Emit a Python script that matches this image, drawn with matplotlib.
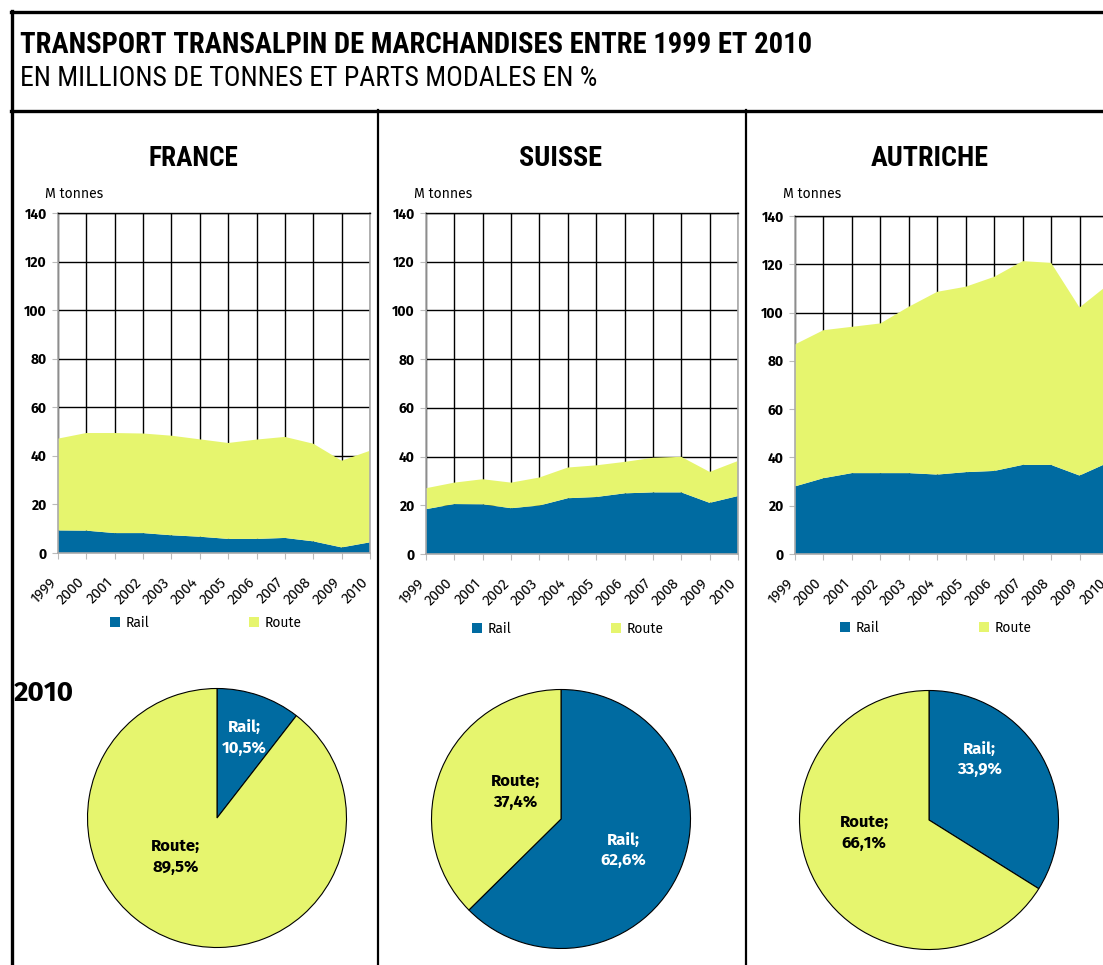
import matplotlib
matplotlib.use('Agg')
import matplotlib.pyplot as plt
from matplotlib.lines import Line2D
from matplotlib.transforms import ScaledTranslation
from matplotlib import font_manager

# ---------------- data ----------------
years = ['1999', '2000', '2001', '2002', '2003', '2004', '2005', '2006', '2007', '2008', '2009', '2010']

france_rail = [9.3, 9.2, 8.2, 8.2, 7.3, 6.7, 5.8, 5.8, 6.2, 4.8, 2.3, 4.4]
france_route = [37.8, 40.2, 41.2, 41.0, 41.0, 40.1, 39.5, 40.9, 41.6, 40.2, 35.7, 37.7]

suisse_rail = [18.4, 20.5, 20.4, 18.8, 19.9, 22.9, 23.4, 24.9, 25.3, 25.3, 21.0, 23.8]
suisse_route = [8.6, 8.8, 10.3, 10.5, 11.5, 12.6, 13.0, 12.9, 14.2, 14.6, 12.7, 14.4]

autriche_rail = [28.0, 31.4, 33.5, 33.5, 33.5, 32.9, 33.9, 34.4, 36.9, 36.9, 32.5, 37.8]
autriche_route = [58.8, 61.3, 60.6, 62.0, 68.9, 75.7, 76.8, 80.4, 84.4, 83.7, 69.6, 73.7]

pie_labels = ['Rail', 'Route']
france_share = [10.5, 89.5]
suisse_share = [62.6, 37.4]
autriche_share = [33.9, 66.1]

countries = ['FRANCE', 'SUISSE', 'AUTRICHE']
yticks = [0, 20, 40, 60, 80, 100, 120, 140]

title = 'TRANSPORT TRANSALPIN DE MARCHANDISES ENTRE 1999 ET 2010'
subtitle = 'EN MILLIONS DE TONNES ET PARTS MODALES EN %'

RAIL = '#006BA1'
ROUTE = '#E6F56E'

# ---------------- fonts ----------------
avail = {f.name for f in font_manager.fontManager.ttflist}


def pick(cands):
    for c in cands:
        if c in avail:
            return c
    return 'DejaVu Sans'


narrow = pick(['Roboto Condensed', 'PT Sans Narrow', 'Archivo Narrow', 'Asap Condensed',
               'Barlow Semi Condensed', 'Liberation Sans Narrow'])
body = pick(['Fira Sans', 'Open Sans', 'Noto Sans', 'DejaVu Sans'])
plt.rcParams['font.family'] = [body, 'DejaVu Sans']

W, H = 1103, 965
fig = plt.figure(figsize=(W / 100, H / 100), dpi=100)
renderer = fig.canvas.get_renderer()


def rect(x0, y0, x1, y1):
    return [x0 / W, 1 - y1 / H, (x1 - x0) / W, (y1 - y0) / H]


def fx(x):
    return x / W


def fy(y):
    return 1 - y / H


def fit_width(t, target_px):
    w = t.get_window_extent(renderer).width
    if w > 0:
        t.set_fontsize(t.get_fontsize() * target_px / w)


# ---------------- frame lines ----------------
def fline(xs, ys, lw):
    fig.add_artist(Line2D([fx(v) for v in xs], [fy(v) for v in ys], color='black',
                          lw=lw, solid_capstyle='projecting'))


fline([11.5, 11.5], [11, 970], 2.4)      # left border
fline([11, 1110], [11.5, 11.5], 2.4)    # top border
fline([11, 1110], [110.5, 110.5], 2.4)  # header bottom
fline([377.5, 377.5], [110, 970], 1.6)
fline([746, 746], [110, 970], 1.6)

t = fig.text(fx(20), fy(45), title, fontsize=18, fontweight='bold', family=narrow,
             ha='left', va='center')
fit_width(t, 793)
t = fig.text(fx(20), fy(78), subtitle, fontsize=16, family=narrow, ha='left', va='center')
fit_width(t, 578)

# ---------------- area charts ----------------
area_data = [(france_rail, france_route), (suisse_rail, suisse_route), (autriche_rail, autriche_route)]
area_boxes = [(58, 213, 370, 553), (426, 213, 738, 554), (795, 216, 1108, 554)]
legend_x = [110, 472, 840]
legend_y = [623, 629, 628]
title_x = [193, 561, 930]
title_w = [90, 83, 118]
mton_x = [45, 414, 783]
shares = [france_share, suisse_share, autriche_share]
pie_centers = [(217, 818), (561, 819), (929, 820)]
pie_r = 129.5
pie_label_pos = [
    [(0.21, 0.62), (-0.32, -0.30)],
    [(0.48, -0.24), (-0.35, 0.21)],
    [(0.39, 0.47), (-0.50, -0.10)],
]
# tick-label offset from each tick (pixels): left and down
label_off = ScaledTranslation(-9 / 100, -22 / 100, fig.dpi_scale_trans)

x = list(range(len(years)))
for i in range(3):
    rail, route = area_data[i]
    x0, y0, x1, y1 = area_boxes[i]
    ax = fig.add_axes(rect(x0, y0, x1, y1))
    ax.stackplot(x, rail, route, colors=[RAIL, ROUTE], labels=['Rail', 'Route'], zorder=2)
    ax.set_xlim(0, len(years) - 1)
    ax.set_ylim(0, 140)
    ax.set_yticks(yticks)
    ax.set_xticks(x)
    ax.set_xticklabels([])
    for xi, yr in zip(x, years):
        ax.text(xi, 0, yr, transform=ax.get_xaxis_transform() + label_off,
                rotation=45, ha='right', va='top', rotation_mode='anchor',
                fontsize=10.5, clip_on=False)
    for lab in ax.get_yticklabels():
        lab.set_fontweight('bold')
        lab.set_fontsize(10)
    ax.tick_params(axis='y', length=4, color='#bbbbbb', pad=4)
    ax.tick_params(axis='x', length=4, color='#bbbbbb')
    ax.grid(True, color='black', lw=1.0, zorder=1)
    ax.set_axisbelow(True)
    for s in ['left', 'bottom', 'right']:
        ax.spines[s].set_color('#aaaaaa')
        ax.spines[s].set_linewidth(1.2)
    ax.spines['top'].set_color('black')
    ax.spines['top'].set_linewidth(1.0)
    ax.legend(loc='center left',
              bbox_to_anchor=((legend_x[i] - x0) / (x1 - x0), -(legend_y[i] - y1) / (y1 - y0)),
              ncol=2, frameon=False, borderpad=0, borderaxespad=0,
              fontsize=10, handlelength=0.7, handleheight=0.7, handletextpad=0.4,
              columnspacing=7.2)

    t = fig.text(fx(title_x[i]), fy(159), countries[i], fontsize=18, fontweight='bold',
                 family=narrow, ha='center', va='center')
    fit_width(t, title_w[i])
    t = fig.text(fx(mton_x[i]), fy(194), 'M tonnes', fontsize=10, ha='left', va='center')
    fit_width(t, 58)

    # ---------------- pie ----------------
    cx, cy = pie_centers[i]
    pad = 1.03
    pax = fig.add_axes(rect(cx - pie_r * pad, cy - pie_r * pad, cx + pie_r * pad, cy + pie_r * pad))
    pax.pie(shares[i], colors=[RAIL, ROUTE], startangle=90, counterclock=False,
            wedgeprops=dict(edgecolor='black', linewidth=0.8))
    pax.set_xlim(-pad, pad)
    pax.set_ylim(-pad, pad)
    pax.set_aspect('equal')
    pax.axis('off')
    for j, name in enumerate(pie_labels):
        px, py = pie_label_pos[i][j]
        pax.text(px, py, f"{name};\n{shares[i][j]:.1f}%".replace('.', ','),
                 ha='center', va='center', fontsize=12, fontweight='bold',
                 color='white' if name == 'Rail' else 'black', linespacing=1.35)

t = fig.text(fx(14), fy(693), '2010', fontsize=18, fontweight='bold', ha='left', va='center')
fit_width(t, 60)

fig.savefig('out.png', dpi=100)
